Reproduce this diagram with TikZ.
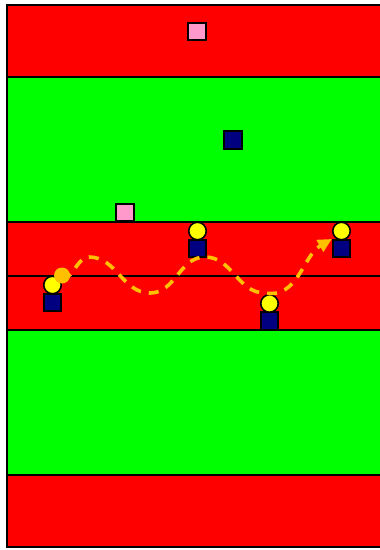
\documentclass[tikz,border=0pt]{standalone}
\usetikzlibrary{arrows.meta,positioning}
\definecolor{pitchred}{HTML}{FF0000}
\definecolor{pitchgreen}{HTML}{00FF00}
\definecolor{conepink}{HTML}{FF99CC}
\definecolor{shirtnavy}{HTML}{000080}
\definecolor{headyellow}{HTML}{FFFF00}
\definecolor{ballorange}{HTML}{FFC000}

\begin{document}
\begin{tikzpicture}[
  x=1pt, y=-1pt,
  >=Stealth,
  band/.style={draw=black, line width=1.6pt, fill=#1},
  cone/.style={rectangle, draw=black, line width=1.6pt, fill=conepink, minimum size=17.5pt, inner sep=0pt},
  shirt/.style={rectangle, draw=black, line width=1.6pt, fill=shirtnavy, minimum size=17.5pt, inner sep=0pt},
  head/.style={circle, draw=black, line width=1.6pt, fill=headyellow, minimum size=17.5pt, inner sep=0pt},
  ball/.style={circle, fill=ballorange, minimum size=16pt, inner sep=0pt},
  pass/.style={-{Triangle[length=14pt,width=13pt]}, color=ballorange, line width=3.6pt, dash pattern=on 10pt off 8pt},
]
\useasboundingbox (0,0) rectangle (380,550);

% pitch bands
\fill[white] (0,0) rectangle (380,550);
\draw[band=pitchred]   (7,5)   rectangle (384,77);
\draw[band=pitchgreen] (7,77)  rectangle (384,222);
\draw[band=pitchred]   (7,222) rectangle (384,276);
\draw[band=pitchred]   (7,276) rectangle (384,330);
\draw[band=pitchgreen] (7,330) rectangle (384,475);
\draw[band=pitchred]   (7,475) rectangle (384,547);

% cones
\node[cone] (c1) at (197,31.5) {};
\node[cone] (c2) at (125,212.5) {};

% players
\node[shirt] (p1) at (52.5,302.5) {};
\node[head, above=-1.6pt of p1] (p1h) {};
\node[shirt] (p2) at (197.5,248.5) {};
\node[head, above=-1.6pt of p2] (p2h) {};
\node[shirt] (p3) at (269.5,321) {};
\node[head, above=-1.6pt of p3] (p3h) {};
\node[shirt] (p4) at (341.5,248.5) {};
\node[head, above=-1.6pt of p4] (p4h) {};
\node[shirt] (p5) at (233,140) {};

% ball and pass
\node[ball] (ball) at (62,275.5) {};
\draw[pass] (ball.center) to[out=-45,in=180] (89,257) to[out=0,in=180] (150,293)
  to[out=0,in=180] (205,257) to[out=0,in=180] (265,293) to[out=-10,in=210] (p4.north west);

\end{tikzpicture}
\end{document}
